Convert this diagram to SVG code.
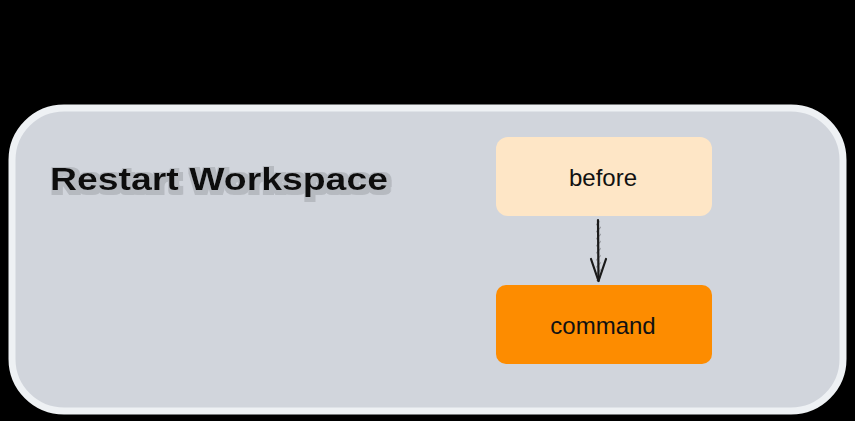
<svg xmlns="http://www.w3.org/2000/svg" width="855" height="421" viewBox="0 0 855 421">
  <defs>
    <style>
      .label { font-family: "Liberation Sans", "DejaVu Sans", sans-serif; fill: #111; text-anchor: middle; }
      .title { font-family: "Liberation Sans", "DejaVu Sans", sans-serif; font-weight: bold; fill: #111; }
      .node { stroke: none; }
      .edge { stroke: #1a1a1a; stroke-width: 2.2; fill: none; stroke-linecap: round; stroke-linejoin: round; }
    </style>
    <pattern id="hatch" width="5" height="5" patternUnits="userSpaceOnUse" patternTransform="rotate(45)">
      <line x1="0" y1="0" x2="0" y2="5" stroke="#8a8d92" stroke-width="1.6"/>
    </pattern>
    <!-- soft grey halo drawn behind sketched strokes -->
    <filter id="halo" x="-5%" y="-20%" width="110%" height="140%">
      <feMorphology in="SourceAlpha" operator="dilate" radius="2.5" result="wide"/>
      <feOffset in="wide" dx="2" dy="2" result="shift"/>
      <feFlood flood-color="#8a8d92" flood-opacity="0.38"/>
      <feComposite in2="shift" operator="in" result="shade"/>
      <feMerge>
        <feMergeNode in="shade"/>
        <feMergeNode in="SourceGraphic"/>
      </feMerge>
    </filter>
  </defs>

  <!-- backdrop -->
  <rect x="0" y="0" width="855" height="421" fill="#000"/>

  <!-- workspace container -->
  <g id="workspace">
    <rect x="12" y="108" width="831" height="303" rx="52" fill="#d1d5dc" stroke="#eef1f4" stroke-width="7"/>
    <text class="title" x="50" y="190" font-size="31" textLength="338" lengthAdjust="spacingAndGlyphs" filter="url(#halo)">Restart Workspace</text>
  </g>

  <!-- connectors -->
  <g id="connectors">
    <path d="M596 220 L601 222 L601 281 L596 281 Z" fill="url(#hatch)"/>
    <path class="edge" d="M598 220 L598.5 281"/>
    <path class="edge" d="M591 259 L598.5 281 L606 259"/>
  </g>

  <!-- before -->
  <g id="before">
    <rect class="node" x="496" y="137" width="216" height="79" rx="12" fill="#fee6c6"/>
    <text class="label" x="603" y="186" font-size="24">before</text>
  </g>

  <!-- command -->
  <g id="command">
    <rect class="node" x="496" y="285" width="216" height="79" rx="10" fill="#fd8c00"/>
    <text class="label" x="603" y="334" font-size="24">command</text>
  </g>
</svg>
